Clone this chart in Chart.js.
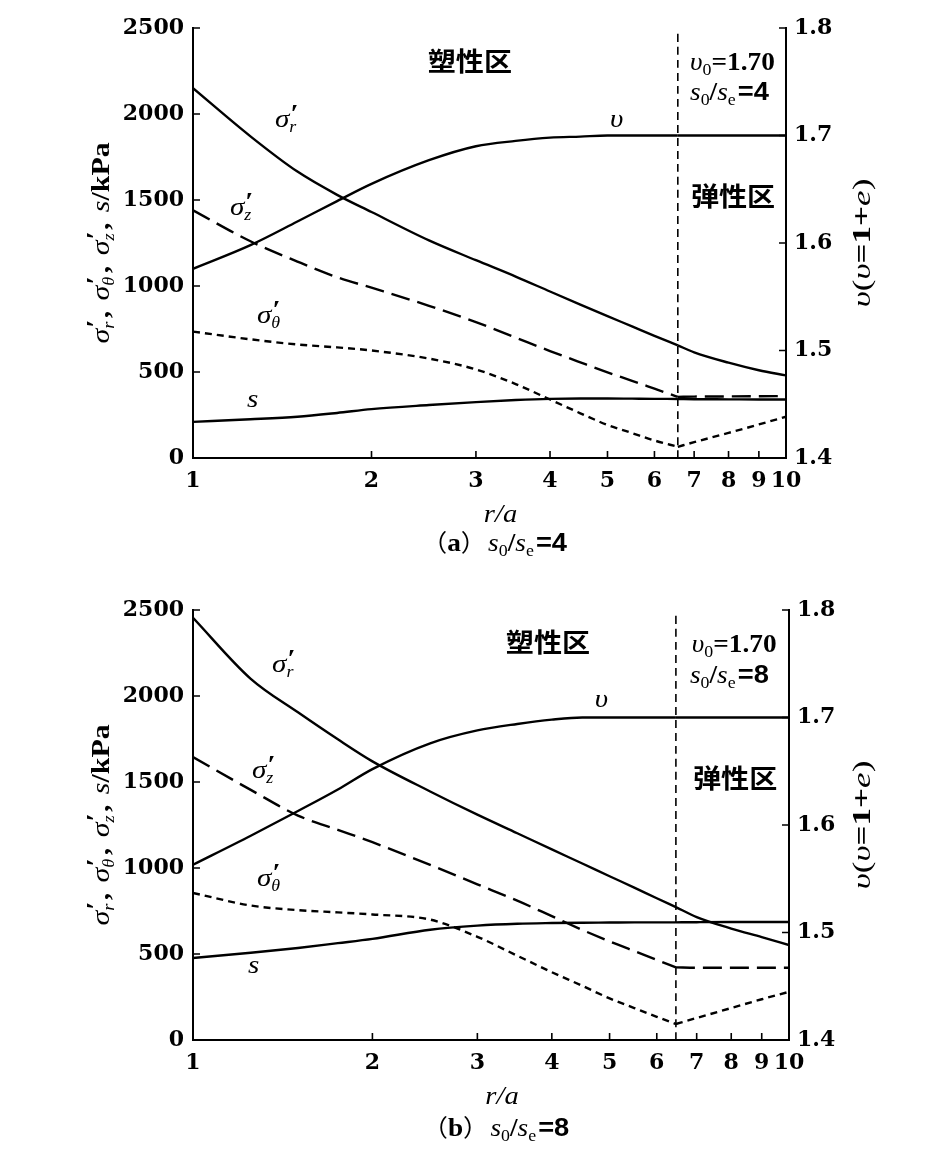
<!DOCTYPE html>
<html>
<head>
<meta charset="utf-8">
<script src="https://cdn.jsdelivr.net/npm/chart.js@4.4.0/dist/chart.umd.min.js"></script>
<style>
  body { margin: 0; background: #fff; width: 927px; height: 1163px; overflow: hidden; position: relative; }
  canvas { position: absolute; left: 0; }
  #chartA { top: 0; }
  #chartB { top: 582px; }
</style>
</head>
<body>
<canvas id="chartA" width="927" height="580"></canvas>
<canvas id="chartB" width="927" height="581"></canvas>
<script>
// tick values shared by both panels
const xTicks = [1, 2, 3, 4, 5, 6, 7, 8, 9, 10];
const yTicks = [0, 500, 1000, 1500, 2000, 2500];
const vTicks = [1.4, 1.5, 1.6, 1.7, 1.8];

// (a) s0/se = 4
const rA     = [1, 1.25, 1.5, 1.75, 2, 2.5, 3, 3.5, 4, 4.5, 5, 5.5, 6, 6.57, 7, 8, 9, 10];
const rpA    = 6.57;
const sigRA  = [2150, 1870, 1665, 1530, 1430, 1265, 1150, 1055, 968, 892, 825, 765, 710, 655, 614, 554, 510, 480];
const sigZA  = [1440, 1260, 1142, 1051, 990, 885, 790, 700, 622, 556, 498, 449, 403, 355, 357, 358, 359, 360];
const sigTA  = [735, 690, 660, 643, 625, 578, 515, 430, 340, 260, 192, 145, 102, 65, 92, 146, 195, 240];
const sA     = [210, 225, 240, 262, 284, 308, 325, 337, 344, 346, 346, 345, 344, 343, 342, 341, 340, 340];
const upsA   = [1.576, 1.598, 1.620, 1.639, 1.655, 1.677, 1.690, 1.695, 1.698, 1.699, 1.700, 1.700, 1.700, 1.700, 1.700, 1.700, 1.700, 1.700];

// (b) s0/se = 8
const rB     = [1, 1.25, 1.5, 1.75, 2, 2.5, 3, 3.5, 4, 4.5, 5, 5.5, 6, 6.46, 7, 8, 9, 10];
const rpB    = 6.46;
const sigRB  = [2455, 2100, 1905, 1748, 1620, 1445, 1310, 1202, 1108, 1026, 952, 886, 824, 773, 715, 648, 598, 552];
const sigZB  = [1645, 1454, 1305, 1222, 1150, 1018, 905, 810, 720, 640, 573, 517, 466, 422, 420, 420, 420, 420];
const sigTB  = [855, 782, 755, 742, 730, 700, 600, 490, 394, 315, 242, 186, 135, 93, 128, 186, 237, 280];
const sB     = [477, 507, 535, 563, 588, 641, 665, 676, 680, 682, 683, 684, 684, 684, 685, 686, 686, 686];
const upsB   = [1.563, 1.590, 1.613, 1.633, 1.652, 1.676, 1.688, 1.694, 1.698, 1.700, 1.700, 1.700, 1.700, 1.700, 1.700, 1.700, 1.700, 1.700];

const SERIF = '"Liberation Serif", "Times New Roman", serif';
const SANS = '"Liberation Sans", Arial, sans-serif';
const CJK = '"Noto Sans CJK SC", sans-serif';
const fnt = (st, sz, fam) => st + ' ' + sz + 'px ' + (fam || SERIF);
const I = sz => fnt('italic', sz);
const B = sz => fnt('bold', sz);
const R = sz => fnt('normal', sz);

// draws a row of text pieces (for subscripts, primes, mixed fonts)
function drawRich(ctx, parts, x, y, align, sx) {
  sx = sx || 1.12;
  let w = 0;
  for (const p of parts) {
    ctx.font = p.f;
    p.w = p.keep ? 0 : ctx.measureText(p.t).width + (p.gap || 0);
    w += p.w;
  }
  let cx = align === 'center' ? -w / 2 : align === 'right' ? -w : 0;
  ctx.save();
  ctx.translate(x, y);
  ctx.scale(sx, 1);
  ctx.textAlign = 'left';
  ctx.textBaseline = 'alphabetic';
  ctx.fillStyle = '#000';
  for (const p of parts) {
    ctx.font = p.f;
    ctx.fillText(p.t, cx + (p.dx || 0), p.dy || 0);
    cx += p.w;
  }
  ctx.restore();
}

function sigma(sub, gap) {
  return [
    {t: 'σ', f: I(26)},
    {t: '′', f: B(26), keep: true, dx: 1, dy: -5},
    {t: sub, f: I(16), dy: 5, gap: gap || 0}
  ];
}

function leftTitle() {
  const comma = {t: ',', f: B(26), gap: 9};
  return [].concat(sigma('r', 3), [comma], sigma('θ', 3), [comma], sigma('z', 3), [comma],
    [{t: 's', f: I(26)}, {t: '/kPa', f: B(26)}]);
}

function rightTitle() {
  return [
    {t: 'υ', f: I(26)}, {t: '(', f: R(26)}, {t: 'υ', f: I(26)},
    {t: '=1+', f: B(26)}, {t: 'e', f: I(26)}, {t: ')', f: R(26)}
  ];
}

function ratioText(n) {
  return [
    {t: 's', f: I(26)}, {t: '0', f: R(17), dy: 5}, {t: '/', f: B(26)},
    {t: 's', f: I(26)}, {t: 'e', f: R(17), dy: 5, gap: 2}, {t: '=' + n, f: fnt('bold', 26, SANS)}
  ];
}

function series(xs, ys, axis, dash, width) {
  return {
    data: xs.map((x, i) => ({x: x, y: ys[i]})),
    yAxisID: axis,
    borderColor: '#000',
    borderWidth: width || 2.4,
    borderDash: dash || [],
    pointRadius: 0,
    fill: false,
    cubicInterpolationMode: 'monotone'
  };
}

function decor(cfg) {
  return {
    id: 'decor',
    afterDraw(chart) {
      const ctx = chart.ctx, a = chart.chartArea, sc = chart.scales;
      ctx.save();
      // inward tick marks
      ctx.strokeStyle = '#000';
      ctx.lineWidth = 1.6;
      ctx.beginPath();
      xTicks.forEach(v => { const px = sc.x.getPixelForValue(v); ctx.moveTo(px, a.bottom); ctx.lineTo(px, a.bottom - 7); });
      yTicks.forEach(v => { const py = sc.y.getPixelForValue(v); ctx.moveTo(a.left, py); ctx.lineTo(a.left + 7, py); });
      vTicks.forEach(v => { const py = sc.y1.getPixelForValue(v); ctx.moveTo(a.right, py); ctx.lineTo(a.right - 7, py); });
      ctx.stroke();

      // labels placed in data coordinates
      cfg.labels.forEach(l => {
        drawRich(ctx, l.parts, sc.x.getPixelForValue(l.x), sc.y.getPixelForValue(l.y), l.align || 'left', l.sx);
      });

      // axis titles
      const midY = (a.top + a.bottom) / 2;
      ctx.save();
      ctx.translate(100, midY);
      ctx.rotate(-Math.PI / 2);
      drawRich(ctx, leftTitle(), 0, 9, 'center', 1.15);
      ctx.restore();
      ctx.save();
      ctx.translate(861, midY);
      ctx.rotate(-Math.PI / 2);
      drawRich(ctx, rightTitle(), 0, 9, 'center', 1.35);
      ctx.restore();

      const midX = (a.left + a.right) / 2;
      drawRich(ctx, [{t: 'r', f: I(26)}, {t: '/', f: I(26)}, {t: 'a', f: I(26)}], midX + 11, a.bottom + 64, 'center', 1.1);
      const cap = [{t: '（', f: fnt('normal', 24, CJK)}, {t: cfg.tag, f: B(26)}, {t: '）', f: fnt('normal', 24, CJK), gap: 2}]
        .concat(ratioText(cfg.ratio));
      drawRich(ctx, cap, midX + 5, a.bottom + cfg.capDy, 'center', 1.05);
      ctx.restore();
    }
  };
}

function makeChart(id, cfg) {
  const r = cfg.r, k = r.indexOf(cfg.rp);
  const split = (ys, axis, dash) => [
    series(r.slice(0, k + 1), ys.slice(0, k + 1), axis, dash),
    series(r.slice(k), ys.slice(k), axis, dash)
  ];
  const datasets = [].concat(
    split(cfg.sr, 'y'),
    split(cfg.sz, 'y', [19, 8]),
    split(cfg.st, 'y', [7, 5]),
    split(cfg.s, 'y'),
    split(cfg.v, 'y1'),
    [series([cfg.rp, cfg.rp], [0, 2480], 'y', [8, 5], 1.6)]
  );
  const tickFont = {family: '"DejaVu Serif", serif', size: 22, weight: 'bold'};
  const axisBase = {
    grid: {display: false, drawTicks: false},
    border: {display: true, color: '#000', width: 2}
  };
  new Chart(document.getElementById(id), {
    type: 'line',
    data: {datasets: datasets},
    options: {
      responsive: false,
      animation: false,
      devicePixelRatio: 1,
      layout: {padding: {top: 28, left: 0, right: 0, bottom: 0}},
      plugins: {legend: {display: false}, tooltip: {enabled: false}},
      scales: {
        x: Object.assign({}, axisBase, {
          type: 'logarithmic', min: 1, max: 10,
          ticks: {font: tickFont, color: '#000', padding: 10, autoSkip: false, maxRotation: 0, callback: v => String(v)},
          afterBuildTicks: s => { s.ticks = xTicks.map(v => ({value: v})); },
          afterFit: s => { s.height = cfg.xh; }
        }),
        y: Object.assign({}, axisBase, {
          type: 'linear', position: 'left', min: 0, max: 2500,
          ticks: {font: tickFont, color: '#000', padding: 9, callback: v => String(v)},
          afterBuildTicks: s => { s.ticks = yTicks.map(v => ({value: v})); },
          afterFit: s => { s.width = 193; }
        }),
        y1: Object.assign({}, axisBase, {
          type: 'linear', position: 'right', min: 1.4, max: 1.8,
          ticks: {font: tickFont, color: '#000', padding: 8, callback: v => v.toFixed(1)},
          afterBuildTicks: s => { s.ticks = vTicks.map(v => ({value: v})); },
          afterFit: s => { s.width = cfg.rw; }
        })
      }
    },
    plugins: [decor(cfg)]
  });
}

makeChart('chartA', {
  r: rA, rp: rpA, sr: sigRA, sz: sigZA, st: sigTA, s: sA, v: upsA,
  xh: 122, rw: 141, tag: 'a', ratio: '4', capDy: 93,
  labels: [
    {x: 2.93, y: 2250, align: 'center', parts: [{t: '塑性区', f: fnt('bold', 26, CJK)}], sx: 1.08},
    {x: 8.14, y: 1465, align: 'center', parts: [{t: '弹性区', f: fnt('bold', 26, CJK)}], sx: 1.08},
    {x: 6.89, y: 2256, parts: [{t: 'υ', f: I(26)}, {t: '0', f: R(17), dy: 5}, {t: '=1.70', f: B(26)}], sx: 1.05},
    {x: 6.89, y: 2081, parts: ratioText('4'), sx: 1.05},
    {x: 1.375, y: 1924, parts: sigma('r')},
    {x: 1.154, y: 1413, parts: sigma('z')},
    {x: 1.282, y: 785, parts: sigma('θ')},
    {x: 1.233, y: 297, parts: [{t: 's', f: I(26)}]},
    {x: 5.05, y: 1924, parts: [{t: 'υ', f: I(26)}]}
  ]
});

makeChart('chartB', {
  r: rB, rp: rpB, sr: sigRB, sz: sigZB, st: sigTB, s: sB, v: upsB,
  xh: 123, rw: 138, tag: 'b', ratio: '8', capDy: 96,
  labels: [
    {x: 3.94, y: 2256, align: 'center', parts: [{t: '塑性区', f: fnt('bold', 26, CJK)}], sx: 1.08},
    {x: 8.12, y: 1465, align: 'center', parts: [{t: '弹性区', f: fnt('bold', 26, CJK)}], sx: 1.08},
    {x: 6.87, y: 2256, parts: [{t: 'υ', f: I(26)}, {t: '0', f: R(17), dy: 5}, {t: '=1.70', f: B(26)}], sx: 1.05},
    {x: 6.82, y: 2076, parts: ratioText('8'), sx: 1.05},
    {x: 1.357, y: 2140, parts: sigma('r')},
    {x: 1.256, y: 1523, parts: sigma('z')},
    {x: 1.28, y: 895, parts: sigma('θ')},
    {x: 1.237, y: 390, parts: [{t: 's', f: I(26)}]},
    {x: 4.72, y: 1936, parts: [{t: 'υ', f: I(26)}]}
  ]
});
</script>
</body>
</html>
